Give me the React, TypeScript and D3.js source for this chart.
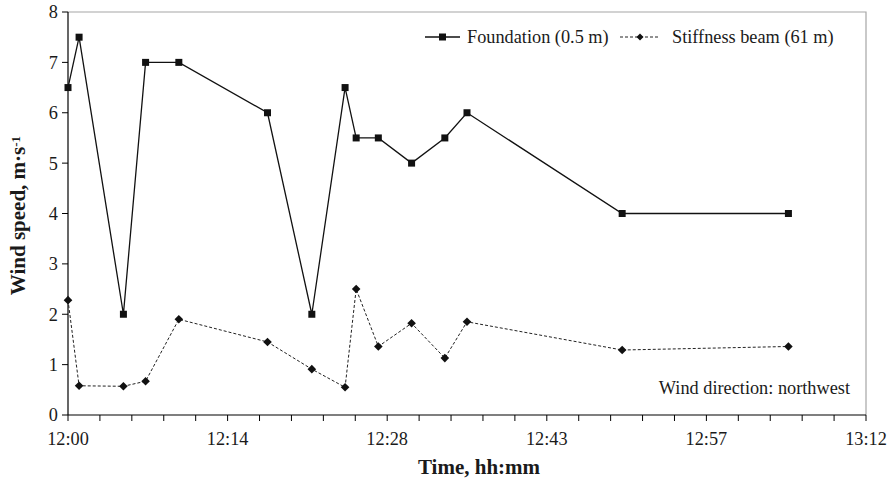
import { useEffect, useRef } from 'react'
import * as d3 from 'd3'

const TIMES = ['12:00', '12:01', '12:05', '12:07', '12:10', '12:18', '12:22', '12:25', '12:26', '12:28', '12:31', '12:34', '12:36', '12:50', '13:05']
const FOUNDATION = [6.5, 7.5, 2, 7, 7, 6, 2, 6.5, 5.5, 5.5, 5, 5.5, 6, 4, 4]
const STIFFNESS = [2.28, 0.58, 0.57, 0.67, 1.9, 1.45, 0.91, 0.55, 2.5, 1.36, 1.82, 1.13, 1.85, 1.29, 1.36]
const X_TICK_LABELS = ['12:00', '12:14', '12:28', '12:43', '12:57', '13:12']
const Y_TICKS = [0, 1, 2, 3, 4, 5, 6, 7, 8]

const FONT = '"Liberation Serif", "Times New Roman", serif'
const FS = 18.3

const toMin = (s: string) => {
  const [h, m] = s.split(':').map(Number)
  return (h - 12) * 60 + m
}

export default function App() {
  const svgRef = useRef<SVGSVGElement>(null)

  useEffect(() => {
    const el = svgRef.current
    if (!el) return
    const W = 895
    const H = 482
    const left = 68
    const right = 866
    const top = 12
    const bottom = 415

    const x = d3.scaleLinear().domain([0, 72]).range([left, right])
    const y = d3.scaleLinear().domain([0, 8]).range([bottom, top])

    const svg = d3.select(el)
    svg.selectAll('*').remove()
    svg.attr('width', W).attr('height', H)

    svg.append('rect').attr('width', W).attr('height', H).attr('fill', '#fff')

    // gray frame on top and right
    svg.append('path')
      .attr('d', `M${left},${top}H${right}V${bottom}`)
      .attr('fill', 'none')
      .attr('stroke', '#a6a6a6')
      .attr('stroke-width', 1.2)

    // y axis
    const yAxis = svg.append('g')
    yAxis.append('line')
      .attr('x1', left).attr('x2', left)
      .attr('y1', top).attr('y2', bottom)
      .attr('stroke', '#000').attr('stroke-width', 1.2)
    Y_TICKS.forEach((t) => {
      yAxis.append('line')
        .attr('x1', left - 6).attr('x2', left)
        .attr('y1', y(t)).attr('y2', y(t))
        .attr('stroke', '#000').attr('stroke-width', 1)
      yAxis.append('text')
        .attr('x', left - 10).attr('y', y(t))
        .attr('dy', '0.35em')
        .attr('text-anchor', 'end')
        .attr('font-family', FONT).attr('font-size', FS)
        .attr('fill', '#1a1a1a')
        .text(t)
    })

    // x axis, minor ticks every 2.88 min, labels every 14.4 min
    const xAxis = svg.append('g')
    xAxis.append('line')
      .attr('x1', left).attr('x2', right)
      .attr('y1', bottom).attr('y2', bottom)
      .attr('stroke', '#000').attr('stroke-width', 1.2)
    d3.range(0, 26).forEach((i) => {
      const v = i * 2.88
      xAxis.append('line')
        .attr('x1', x(v)).attr('x2', x(v))
        .attr('y1', bottom).attr('y2', bottom + 6)
        .attr('stroke', '#000').attr('stroke-width', 1)
    })
    X_TICK_LABELS.forEach((lab, i) => {
      xAxis.append('text')
        .attr('x', x(i * 14.4)).attr('y', bottom + 24)
        .attr('dy', '0.35em')
        .attr('text-anchor', 'middle')
        .attr('font-family', FONT).attr('font-size', FS)
        .attr('fill', '#1a1a1a')
        .text(lab)
    })

    // axis titles
    svg.append('text')
      .attr('x', 479).attr('y', 467)
      .attr('dy', '0.35em')
      .attr('text-anchor', 'middle')
      .attr('font-family', FONT).attr('font-size', 21).attr('font-weight', 'bold')
      .attr('fill', '#1a1a1a')
      .text('Time, hh:mm')

    const yt = svg.append('text')
      .attr('transform', `translate(18,${(top + bottom) / 2 + 2}) rotate(-90)`)
      .attr('dy', '0.35em')
      .attr('text-anchor', 'middle')
      .attr('font-family', FONT).attr('font-size', 21).attr('font-weight', 'bold')
      .attr('fill', '#1a1a1a')
    yt.append('tspan').text('Wind speed, m·s')
    yt.append('tspan').attr('dy', '-0.45em').attr('font-size', 13).text('-1')

    const pts = TIMES.map(toMin)

    const line = d3.line<number>()
      .x((_, i) => x(pts[i]))
      .y((d) => y(d))

    // stiffness beam (dashed, diamonds)
    svg.append('path')
      .datum(STIFFNESS)
      .attr('d', line)
      .attr('fill', 'none')
      .attr('stroke', '#222')
      .attr('stroke-width', 1)
      .attr('stroke-dasharray', '3,2')

    const diamond = 'M0,-4.3L4.3,0L0,4.3L-4.3,0Z'
    STIFFNESS.forEach((v, i) => {
      svg.append('path')
        .attr('d', diamond)
        .attr('transform', `translate(${x(pts[i])},${y(v)})`)
        .attr('fill', '#111')
    })

    // foundation (solid, squares)
    svg.append('path')
      .datum(FOUNDATION)
      .attr('d', line)
      .attr('fill', 'none')
      .attr('stroke', '#111')
      .attr('stroke-width', 1.3)

    FOUNDATION.forEach((v, i) => {
      svg.append('rect')
        .attr('x', x(pts[i]) - 3.5).attr('y', y(v) - 3.5)
        .attr('width', 7).attr('height', 7)
        .attr('fill', '#111')
    })

    // legend
    const ly = 37
    const lg = svg.append('g')
    lg.append('line').attr('x1', 425).attr('x2', 460).attr('y1', ly).attr('y2', ly)
      .attr('stroke', '#111').attr('stroke-width', 1.3)
    lg.append('rect').attr('x', 439).attr('y', ly - 3.5).attr('width', 7).attr('height', 7).attr('fill', '#111')
    lg.append('text').attr('x', 467).attr('y', ly).attr('dy', '0.35em')
      .attr('font-family', FONT).attr('font-size', FS).attr('fill', '#1a1a1a')
      .text('Foundation (0.5 m)')
    lg.append('line').attr('x1', 620).attr('x2', 660).attr('y1', ly).attr('y2', ly)
      .attr('stroke', '#222').attr('stroke-width', 1).attr('stroke-dasharray', '3,2')
    lg.append('path').attr('d', 'M0,-3.5L3.5,0L0,3.5L-3.5,0Z').attr('transform', `translate(640,${ly})`).attr('fill', '#111')
    lg.append('text').attr('x', 672).attr('y', ly).attr('dy', '0.35em')
      .attr('font-family', FONT).attr('font-size', FS).attr('fill', '#1a1a1a')
      .text('Stiffness beam (61 m)')

    svg.append('text')
      .attr('x', 850).attr('y', 388).attr('dy', '0.35em')
      .attr('text-anchor', 'end')
      .attr('font-family', FONT).attr('font-size', FS).attr('fill', '#1a1a1a')
      .text('Wind direction: northwest')
  }, [])

  return (
    <svg
      ref={svgRef}
      style={{ position: 'absolute', left: 0, top: 0, display: 'block' }}
    />
  )
}
